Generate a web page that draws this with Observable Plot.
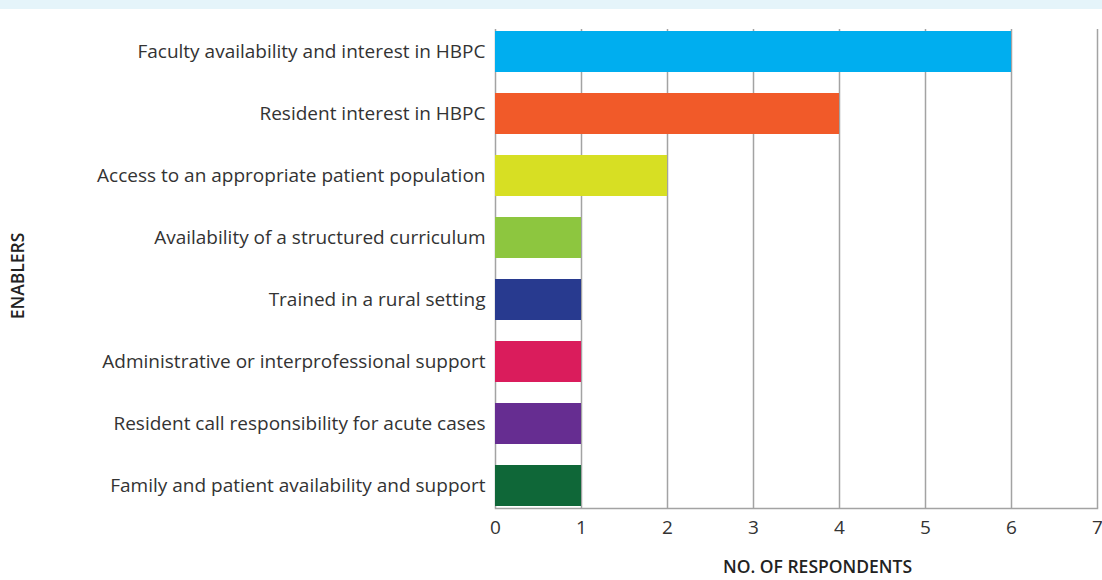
<!DOCTYPE html>
<html>
<head>
<meta charset="utf-8">
<script src="https://cdn.jsdelivr.net/npm/d3@7"></script>
<script src="https://cdn.jsdelivr.net/npm/@observablehq/plot@0.6"></script>
<style>
  html, body { margin: 0; padding: 0; background: #fff; }
  #band { height: 9px; background: #e5f4fa; }
  #chart svg { display: block; }
</style>
</head>
<body>
<div id="band"></div>
<div id="chart"></div>
<script>
const categories = [
  "Faculty availability and interest in HBPC",
  "Resident interest in HBPC",
  "Access to an appropriate patient population",
  "Availability of a structured curriculum",
  "Trained in a rural setting",
  "Administrative or interprofessional support",
  "Resident call responsibility for acute cases",
  "Family and patient availability and support"
];
const respondents = [6, 4, 2, 1, 1, 1, 1, 1];
const colors = ["#00aeef", "#f15a29", "#d7df23", "#8dc63f", "#283a8f", "#da1c5c", "#662d91", "#0f6738"];
const xTicks = [0, 1, 2, 3, 4, 5, 6, 7];
const xLabel = "NO. OF RESPONDENTS";
const yLabel = "ENABLERS";

const data = categories.map((c, i) => ({ category: c, value: respondents[i], color: colors[i] }));

const chart = Plot.plot({
  width: 1102,
  height: 571,
  marginTop: 20,
  marginBottom: 72,
  marginLeft: 495,
  marginRight: 5,
  style: { fontFamily: "'Open Sans', sans-serif", color: "#333", background: "#fff" },
  x: { domain: [0, 7] },
  y: { domain: categories, paddingInner: 0.345, paddingOuter: 0 },
  marks: [
    Plot.gridX(xTicks, { stroke: "#a3a3a3", strokeOpacity: 1, strokeWidth: 1.5 }),
    Plot.barX(data, { x: "value", y: "category", fill: "color" }),
    Plot.frame({ anchor: "bottom", stroke: "#a3a3a3", strokeWidth: 1.5 }),
    Plot.axisX(xTicks, { tickSize: 0, tickPadding: 12, fontSize: 19, label: null, fill: "#333" }),
    Plot.axisY({ tickSize: 0, tickPadding: 10, fontSize: 19, label: null, fill: "#333" }),
    Plot.text([xLabel], { frameAnchor: "bottom", textAnchor: "middle", lineAnchor: "middle", dx: 21, dy: 59, fontSize: 17.5, fontWeight: 600, fill: "#222" }),
    Plot.text([yLabel], { frameAnchor: "left", textAnchor: "middle", lineAnchor: "middle", dx: -477, dy: 7, rotate: -90, fontSize: 17.5, fontWeight: 600, fill: "#222" })
  ]
});
document.getElementById("chart").appendChild(chart);
</script>
</body>
</html>
